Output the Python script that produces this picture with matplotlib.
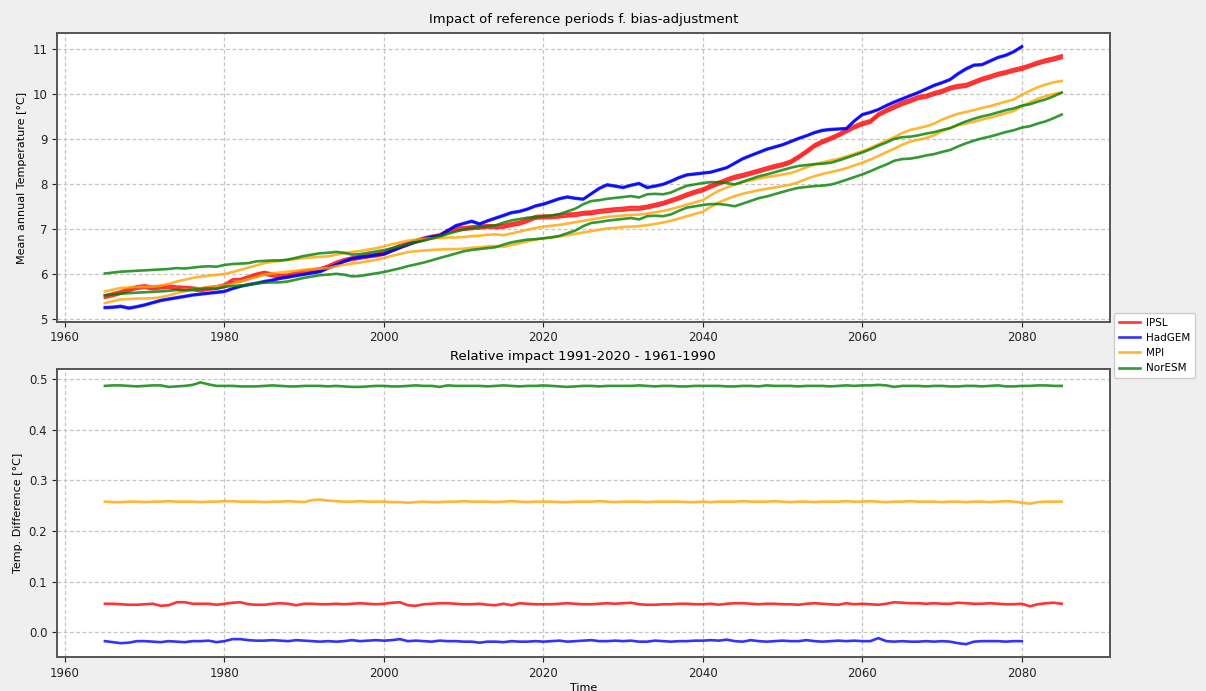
import numpy as np
import matplotlib
matplotlib.use("Agg")
import matplotlib.pyplot as plt

years = list(range(1965, 2086))
years_hadgem = list(range(1965, 2081))
models = ["IPSL", "HadGEM", "MPI", "NorESM"]
colors = ["red", "blue", "orange", "green"]

# reference 1961-1990 (IPSL, HadGEM) / 1991-2020 (MPI, NorESM) series
ipsl_ref = [5.48,5.52,5.57,5.63,5.68,5.70,5.67,5.69,5.70,5.67,5.66,5.65,5.63,5.66,5.68,5.72,5.83,5.84,5.90,5.96,
            6.00,5.96,5.93,5.94,5.99,6.03,6.05,6.08,6.14,6.22,6.28,6.32,6.35,6.38,6.40,6.44,6.52,6.59,6.65,6.71,
            6.76,6.80,6.83,6.93,6.98,6.99,7.01,7.02,7.04,7.03,7.04,7.08,7.11,7.17,7.24,7.25,7.25,7.27,7.29,7.30,
            7.33,7.34,7.37,7.39,7.41,7.42,7.44,7.44,7.47,7.51,7.55,7.61,7.67,7.74,7.80,7.85,7.93,8.00,8.07,8.13,
            8.17,8.22,8.27,8.32,8.37,8.41,8.47,8.58,8.70,8.83,8.92,8.99,9.07,9.16,9.25,9.32,9.37,9.52,9.61,9.69,
            9.77,9.83,9.90,9.93,9.99,10.04,10.11,10.15,10.17,10.24,10.31,10.36,10.42,10.46,10.51,10.55,10.61,10.67,10.72,10.76,
            10.81]
hadgem_ref = [5.27,5.28,5.30,5.26,5.29,5.33,5.38,5.43,5.46,5.49,5.52,5.55,5.57,5.59,5.61,5.63,5.69,5.74,5.78,5.81,
              5.85,5.88,5.92,5.95,5.98,6.01,6.04,6.07,6.15,6.22,6.30,6.36,6.39,6.41,6.44,6.46,6.53,6.60,6.67,6.74,
              6.80,6.84,6.87,6.98,7.09,7.14,7.19,7.13,7.20,7.26,7.32,7.38,7.41,7.46,7.53,7.57,7.63,7.69,7.73,7.70,
              7.68,7.80,7.92,8.00,7.97,7.94,7.99,8.03,7.94,7.97,8.01,8.08,8.16,8.22,8.24,8.26,8.28,8.33,8.38,8.48,
              8.58,8.65,8.72,8.79,8.84,8.89,8.96,9.03,9.09,9.16,9.21,9.23,9.24,9.25,9.42,9.56,9.61,9.67,9.76,9.84,
              9.91,9.98,10.05,10.13,10.21,10.27,10.34,10.47,10.58,10.66,10.67,10.75,10.83,10.88,10.96,11.07]
mpi_ref = [5.62,5.66,5.70,5.71,5.72,5.72,5.73,5.75,5.79,5.84,5.88,5.92,5.95,5.97,5.99,6.01,6.05,6.10,6.15,6.20,
           6.25,6.28,6.30,6.32,6.34,6.36,6.38,6.39,6.40,6.44,6.47,6.50,6.52,6.55,6.58,6.62,6.67,6.71,6.75,6.77,
           6.79,6.80,6.81,6.82,6.82,6.83,6.85,6.86,6.88,6.89,6.87,6.91,6.95,6.99,7.03,7.06,7.08,7.10,7.13,7.16,
           7.19,7.22,7.25,7.28,7.29,7.31,7.32,7.33,7.35,7.38,7.41,7.45,7.50,7.55,7.60,7.65,7.76,7.86,7.93,8.00,
           8.05,8.09,8.13,8.16,8.19,8.22,8.25,8.31,8.38,8.44,8.49,8.53,8.57,8.62,8.68,8.74,8.81,8.89,8.97,9.05,
           9.14,9.21,9.25,9.29,9.35,9.44,9.51,9.57,9.61,9.65,9.70,9.74,9.79,9.84,9.89,9.99,10.08,10.16,10.22,10.27,
           10.30]
noresm_ref = [6.02,6.04,6.06,6.07,6.08,6.09,6.10,6.11,6.12,6.14,6.13,6.15,6.17,6.18,6.17,6.21,6.23,6.24,6.25,6.29,
              6.30,6.31,6.31,6.33,6.37,6.41,6.44,6.47,6.48,6.50,6.48,6.44,6.45,6.48,6.51,6.54,6.58,6.62,6.67,6.71,
              6.75,6.80,6.85,6.90,6.95,7.00,7.03,7.05,7.07,7.09,7.15,7.20,7.23,7.26,7.27,7.29,7.31,7.34,7.40,7.46,
              7.56,7.63,7.65,7.68,7.70,7.72,7.74,7.71,7.78,7.79,7.78,7.82,7.90,7.97,8.00,8.03,8.05,8.05,8.03,8.00,
              8.06,8.12,8.18,8.22,8.27,8.32,8.37,8.41,8.43,8.45,8.46,8.48,8.53,8.59,8.65,8.71,8.78,8.86,8.93,9.01,
              9.05,9.06,9.09,9.13,9.16,9.21,9.25,9.33,9.40,9.46,9.51,9.55,9.60,9.65,9.69,9.75,9.78,9.84,9.89,9.96,
              10.04]

# differences 1991-2020 minus 1961-1990 (bottom panel)
ipsl_diff = [0.056,0.056,0.055,0.054,0.054,0.055,0.056,0.052,0.053,0.059,0.059,0.056,0.056,0.056,0.054,0.056,0.058,0.059,0.055,0.054,
             0.054,0.056,0.057,0.056,0.053,0.056,0.056,0.055,0.055,0.056,0.055,0.056,0.057,0.056,0.055,0.056,0.058,0.059,0.053,0.052,
             0.055,0.056,0.057,0.057,0.056,0.055,0.055,0.056,0.054,0.053,0.056,0.053,0.057,0.056,0.055,0.055,0.055,0.056,0.057,0.056,
             0.055,0.055,0.056,0.057,0.056,0.057,0.058,0.055,0.054,0.054,0.055,0.055,0.056,0.056,0.055,0.055,0.056,0.054,0.056,0.057,
             0.057,0.056,0.055,0.056,0.056,0.055,0.055,0.054,0.056,0.057,0.056,0.055,0.054,0.057,0.055,0.056,0.055,0.054,0.056,0.059,
             0.058,0.057,0.057,0.056,0.057,0.056,0.056,0.058,0.057,0.056,0.056,0.057,0.056,0.055,0.055,0.056,0.051,0.055,0.057,0.058,
             0.056]
hadgem_diff = [-0.018,-0.020,-0.022,-0.021,-0.018,-0.018,-0.019,-0.020,-0.018,-0.019,-0.020,-0.018,-0.018,-0.017,-0.020,-0.018,-0.014,-0.014,-0.016,-0.017,
               -0.017,-0.016,-0.017,-0.018,-0.016,-0.017,-0.018,-0.019,-0.018,-0.019,-0.018,-0.016,-0.018,-0.017,-0.016,-0.017,-0.016,-0.014,-0.018,-0.017,
               -0.018,-0.019,-0.017,-0.018,-0.018,-0.019,-0.019,-0.021,-0.019,-0.019,-0.020,-0.018,-0.019,-0.019,-0.018,-0.019,-0.018,-0.017,-0.019,-0.018,
               -0.017,-0.016,-0.018,-0.018,-0.017,-0.018,-0.017,-0.019,-0.019,-0.017,-0.018,-0.019,-0.018,-0.018,-0.017,-0.017,-0.016,-0.017,-0.015,-0.018,
               -0.019,-0.016,-0.018,-0.019,-0.018,-0.017,-0.018,-0.018,-0.016,-0.018,-0.019,-0.018,-0.017,-0.018,-0.017,-0.018,-0.018,-0.012,-0.018,-0.019,
               -0.018,-0.019,-0.019,-0.018,-0.019,-0.018,-0.019,-0.022,-0.024,-0.019,-0.018,-0.018,-0.018,-0.019,-0.018,-0.018]
mpi_diff = [0.258,0.257,0.257,0.258,0.258,0.257,0.258,0.258,0.259,0.258,0.258,0.258,0.257,0.258,0.258,0.259,0.259,0.258,0.258,0.258,
            0.257,0.258,0.258,0.259,0.258,0.257,0.261,0.262,0.260,0.259,0.258,0.258,0.259,0.258,0.258,0.258,0.257,0.257,0.256,0.257,
            0.258,0.257,0.257,0.258,0.258,0.259,0.258,0.258,0.258,0.257,0.258,0.259,0.258,0.257,0.258,0.258,0.258,0.257,0.257,0.258,
            0.258,0.258,0.259,0.258,0.257,0.258,0.258,0.258,0.257,0.258,0.258,0.258,0.258,0.257,0.257,0.258,0.257,0.258,0.258,0.258,
            0.259,0.258,0.258,0.258,0.259,0.258,0.257,0.258,0.258,0.257,0.258,0.258,0.258,0.259,0.258,0.258,0.259,0.258,0.257,0.258,
            0.258,0.259,0.258,0.258,0.258,0.257,0.258,0.258,0.257,0.258,0.258,0.257,0.258,0.259,0.258,0.256,0.254,0.257,0.258,0.258,
            0.258]
noresm_diff = [0.487,0.488,0.488,0.487,0.486,0.487,0.488,0.488,0.485,0.486,0.487,0.489,0.494,0.490,0.487,0.487,0.487,0.486,0.486,0.486,
               0.487,0.488,0.487,0.486,0.486,0.487,0.487,0.487,0.486,0.487,0.486,0.485,0.485,0.486,0.487,0.487,0.486,0.486,0.487,0.488,
               0.487,0.487,0.485,0.488,0.487,0.487,0.487,0.487,0.486,0.487,0.488,0.487,0.486,0.487,0.487,0.488,0.487,0.486,0.485,0.486,
               0.487,0.487,0.486,0.487,0.487,0.487,0.487,0.488,0.487,0.486,0.487,0.487,0.486,0.486,0.487,0.487,0.487,0.487,0.486,0.486,
               0.487,0.487,0.486,0.488,0.487,0.487,0.487,0.486,0.487,0.487,0.487,0.486,0.487,0.488,0.487,0.488,0.488,0.489,0.488,0.485,
               0.487,0.487,0.487,0.486,0.487,0.487,0.486,0.486,0.487,0.487,0.486,0.487,0.488,0.486,0.486,0.487,0.487,0.488,0.488,0.487,
               0.487]

refs = [ipsl_ref, hadgem_ref, mpi_ref, noresm_ref]
diffs = [ipsl_diff, hadgem_diff, mpi_diff, noresm_diff]
xs = [years, years_hadgem, years, years]

fig = plt.figure(figsize=(12.06, 6.91), dpi=100, facecolor="#efefef")
ax1 = fig.add_axes([0.0473, 0.5344, 0.8727, 0.4176])
ax2 = fig.add_axes([0.0473, 0.0488, 0.8727, 0.4168])

for ax in (ax1, ax2):
    ax.set_facecolor("white")
    ax.grid(True, linestyle=(0, (3, 2)), linewidth=0.9, color="#c4c4c4")
    for s in ax.spines.values():
        s.set_color("#555555")
        s.set_linewidth(1.4)
    ax.tick_params(labelsize=8.5, colors="#222222", length=3.5)
    ax.set_xticks([1960, 1980, 2000, 2020, 2040, 2060, 2080])

# Top panel: two lines per model (one per reference period)
handles = []
for name, c, x, r, d in zip(models, colors, xs, refs, diffs):
    r = np.array(r)
    d = np.array(d)
    if name in ("IPSL", "HadGEM"):
        other = r + d
    else:
        other = r - d
    h, = ax1.plot(x, r, color=c, lw=1.9, alpha=0.8, label=name)
    ax1.plot(x, other, color=c, lw=1.9, alpha=0.8)
    handles.append(h)
    ax2.plot(x, d, color=c, lw=1.9, alpha=0.8)

ax1.set_title("Impact of reference periods f. bias-adjustment", fontsize=9.5, pad=7)
ax1.set_ylabel("Mean annual Temperature [°C]", fontsize=8)
ax2.set_title("Relative impact 1991-2020 - 1961-1990", fontsize=9.5, pad=7)
ax2.set_ylabel("Temp. Difference [°C]", fontsize=8)
ax2.set_xlabel("Time", fontsize=8, labelpad=2)
ax2.set_yticks([0.0, 0.1, 0.2, 0.3, 0.4, 0.5])
ax2.yaxis.set_major_formatter(matplotlib.ticker.FormatStrFormatter("%.1f"))

fig.legend(handles=handles, labels=models, loc="upper left",
           bbox_to_anchor=(1114 / 1206, 1 - 313 / 691), fontsize=7.5,
           frameon=True, fancybox=True, framealpha=1.0, edgecolor="#cccccc",
           handlelength=2.0, handletextpad=0.6, borderpad=0.45,
           borderaxespad=0.0, labelspacing=0.5)

fig.savefig("out.png", dpi=100, facecolor=fig.get_facecolor())
